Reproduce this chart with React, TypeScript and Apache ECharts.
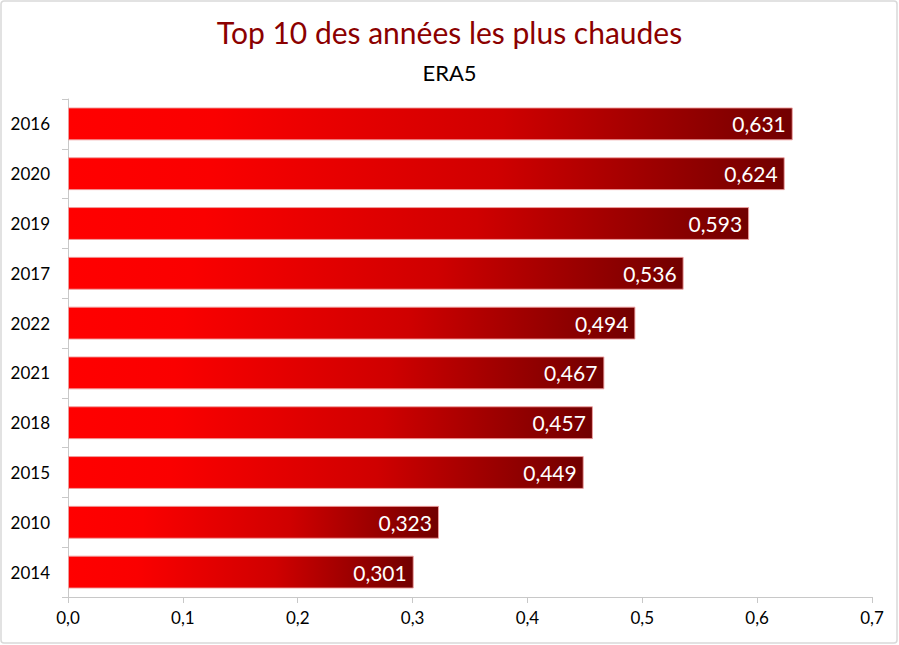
import React, { useEffect, useRef } from "react";
import * as echarts from "echarts";

const years = ["2016", "2020", "2019", "2017", "2022", "2021", "2018", "2015", "2010", "2014"];
const anomalies = [0.631, 0.624, 0.593, 0.536, 0.494, 0.467, 0.457, 0.449, 0.323, 0.301];
const xTicks = [0, 0.1, 0.2, 0.3, 0.4, 0.5, 0.6, 0.7];

const FONT = "Lato, 'Open Sans', sans-serif";

export default function App() {
  const ref = useRef<HTMLDivElement>(null);
  useEffect(() => {
    if (!ref.current) return;
    const chart = echarts.init(ref.current, null, { renderer: "svg" });
    const gradient = new echarts.graphic.LinearGradient(0, 0, 1, 0, [
      { offset: 0, color: "#ff0000" },
      { offset: 0.2, color: "#fa0000" },
      { offset: 0.6, color: "#cf0000" },
      { offset: 1, color: "#720000" },
    ]);
    chart.setOption({
      animation: false,
      backgroundColor: "#ffffff",
      title: [
        {
          text: "Top 10 des années les plus chaudes",
          left: "center",
          top: 12,
          textStyle: { color: "#8b0000", fontSize: 30, fontWeight: "normal", fontFamily: FONT },
        },
        {
          text: "ERA5",
          left: "center",
          top: 56,
          textStyle: { color: "#000000", fontSize: 22, fontWeight: "normal", fontFamily: FONT },
        },
      ],
      graphic: [
        {
          type: "rect",
          shape: { x: 1, y: 1, width: 896, height: 642, r: 3 },
          style: { fill: "none", stroke: "#d9d9d9", lineWidth: 1.5 },
          silent: true,
        },
      ],
      grid: { left: 68, right: 27, top: 99, bottom: 48, containLabel: false },
      xAxis: {
        type: "value",
        min: 0,
        max: 0.7,
        interval: 0.1,
        axisLine: { show: true, lineStyle: { color: "#c8c8c8", width: 1 } },
        axisTick: { show: true, length: 6, lineStyle: { color: "#c8c8c8" } },
        splitLine: { show: false },
        axisLabel: {
          color: "#000000",
          fontSize: 17,
          fontFamily: FONT,
          margin: 12,
          formatter: (v: number) => {
            const t = xTicks.find((x) => Math.abs(x - v) < 1e-9);
            return (t !== undefined ? t : v).toFixed(1).replace(".", ",");
          },
        },
      },
      yAxis: {
        type: "category",
        data: years,
        inverse: true,
        axisLine: { show: true, lineStyle: { color: "#c8c8c8", width: 1 } },
        axisTick: { show: true, length: 6, lineStyle: { color: "#c8c8c8" } },
        axisLabel: { color: "#000000", fontSize: 17, fontFamily: FONT, margin: 18 },
      },
      series: [
        {
          type: "bar",
          data: anomalies,
          barWidth: "66%",
          itemStyle: { color: gradient, borderColor: "rgba(240,160,160,0.9)", borderWidth: 1 },
          label: {
            show: true,
            position: "insideRight",
            distance: 7,
            color: "#ffffff",
            fontSize: 21,
            fontFamily: FONT,
            formatter: (p: any) => String(p.value).replace(".", ","),
          },
        },
      ],
    });
    return () => chart.dispose();
  }, []);
  return <div ref={ref} style={{ width: 899, height: 645, position: "absolute", left: 0, top: 0 }} />;
}
